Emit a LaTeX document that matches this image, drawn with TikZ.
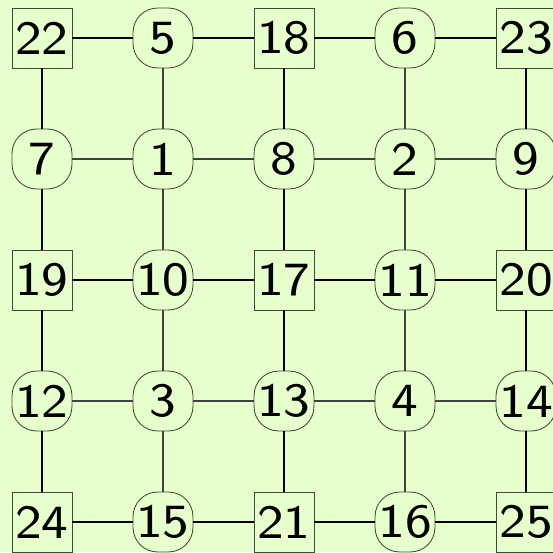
\documentclass[tikz,border=0pt]{standalone}
\usepackage{tikz}
\usepackage{graphicx}
\usetikzlibrary{positioning, backgrounds}
\definecolor{bgc}{HTML}{E6FFCC}
\definecolor{edgec}{HTML}{3F4A38}
\newcommand{\site}[1]{\scalebox{2.95}[2.8]{#1}}
\tikzset{
  cell/.style  = {draw=edgec, fill=bgc, minimum width=0.99cm, minimum height=0.99cm,
                  inner sep=0pt, font=\sffamily\fontsize{8}{9}\selectfont},
  sq/.style    = {cell},                          % square sites
  rd/.style    = {cell, rounded corners=11.5pt},  % rounded sites
  bond/.style  = {draw=black!75, line width=0.5pt},
  heavy/.style = {draw=black, line width=1.2pt},
}

\begin{document}
\begin{tikzpicture}[x=2cm, y=-2cm]
  \fill[bgc] (-0.347,-0.314) rectangle (4.223,4.248);
  \useasboundingbox (-0.347,-0.314) rectangle (4.223,4.248);

  % row 0
  \node[sq] at (0,0) (n22) {\site{22}};
  \node[rd] at (1,0) (n5)  {\site{5}};
  \node[sq] at (2,0) (n18) {\site{18}};
  \node[rd] at (3,0) (n6)  {\site{6}};
  \node[sq] at (4,0) (n23) {\site{23}};
  % row 1
  \node[rd] at (0,1) (n7)  {\site{7}};
  \node[rd] at (1,1) (n1)  {\site{1}};
  \node[rd] at (2,1) (n8)  {\site{8}};
  \node[rd] at (3,1) (n2)  {\site{2}};
  \node[rd] at (4,1) (n9)  {\site{9}};
  % row 2
  \node[sq] at (0,2) (n19) {\site{19}};
  \node[rd] at (1,2) (n10) {\site{10}};
  \node[sq] at (2,2) (n17) {\site{17}};
  \node[rd] at (3,2) (n11) {\site{11}};
  \node[sq] at (4,2) (n20) {\site{20}};
  % row 3
  \node[rd] at (0,3) (n12) {\site{12}};
  \node[rd] at (1,3) (n3)  {\site{3}};
  \node[rd] at (2,3) (n13) {\site{13}};
  \node[rd] at (3,3) (n4)  {\site{4}};
  \node[rd] at (4,3) (n14) {\site{14}};
  % row 4
  \node[sq] at (0,4) (n24) {\site{24}};
  \node[rd] at (1,4) (n15) {\site{15}};
  \node[sq] at (2,4) (n21) {\site{21}};
  \node[rd] at (3,4) (n16) {\site{16}};
  \node[sq] at (4,4) (n25) {\site{25}};

  % heavy rows
  \draw[heavy] (n22) -- (n5);  \draw[heavy] (n5)  -- (n18);
  \draw[heavy] (n18) -- (n6);  \draw[heavy] (n6)  -- (n23);
  \draw[heavy] (n19) -- (n10); \draw[heavy] (n10) -- (n17);
  \draw[heavy] (n17) -- (n11); \draw[heavy] (n11) -- (n20);
  \draw[heavy] (n24) -- (n15); \draw[heavy] (n15) -- (n21);
  \draw[heavy] (n21) -- (n16); \draw[heavy] (n16) -- (n25);
  % heavy columns
  \draw[heavy] (n22) -- (n7);  \draw[heavy] (n7)  -- (n19);
  \draw[heavy] (n19) -- (n12); \draw[heavy] (n12) -- (n24);
  \draw[heavy] (n18) -- (n8);  \draw[heavy] (n8)  -- (n17);
  \draw[heavy] (n17) -- (n13); \draw[heavy] (n13) -- (n21);
  \draw[heavy] (n23) -- (n9);  \draw[heavy] (n9)  -- (n20);
  \draw[heavy] (n20) -- (n14); \draw[heavy] (n14) -- (n25);
  % light rows
  \draw[bond] (n7)  -- (n1);  \draw[bond] (n1)  -- (n8);
  \draw[bond] (n8)  -- (n2);  \draw[bond] (n2)  -- (n9);
  \draw[bond] (n12) -- (n3);  \draw[bond] (n3)  -- (n13);
  \draw[bond] (n13) -- (n4);  \draw[bond] (n4)  -- (n14);
  % light columns
  \draw[bond] (n5)  -- (n1);  \draw[bond] (n1)  -- (n10);
  \draw[bond] (n10) -- (n3);  \draw[bond] (n3)  -- (n15);
  \draw[bond] (n6)  -- (n2);  \draw[bond] (n2)  -- (n11);
  \draw[bond] (n11) -- (n4);  \draw[bond] (n4)  -- (n16);
\end{tikzpicture}
\end{document}
